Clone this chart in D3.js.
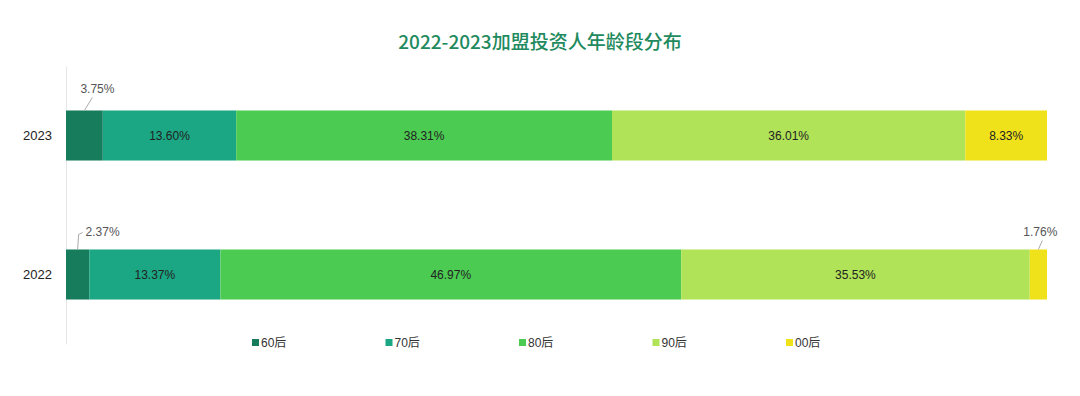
<!DOCTYPE html>
<html>
<head>
<meta charset="utf-8">
<script src="https://cdn.jsdelivr.net/npm/d3@7"></script>
<style>
  body { margin: 0; background: #fff; }
  text { font-family: "Liberation Sans", Arial, "Noto Sans CJK SC", sans-serif; }
</style>
</head>
<body>
<div id="chart"></div>
<script>
// data
const years = ["2023", "2022"];
const groups = ["60后", "70后", "80后", "90后", "00后"];
const values2023 = [3.75, 13.60, 38.31, 36.01, 8.33];
const values2022 = [2.37, 13.37, 46.97, 35.53, 1.76];
const colors = ["#177c5b", "#1ba784", "#4ccb52", "#b0e357", "#efe21b"];

const W = 1080, H = 396;
const svg = d3.select("#chart").append("svg")
  .attr("width", W).attr("height", H);

const x = d3.scaleLinear().domain([0, 100]).range([66, 1047]);
const y = d3.scaleBand().domain(years).range([66, 344])
  .paddingInner(0.64).paddingOuter(0.32);
const color = d3.scaleOrdinal().domain(groups).range(colors);

// title
svg.append("text")
  .attr("x", 540).attr("y", 49)
  .attr("text-anchor", "middle")
  .attr("font-size", 19)
  .attr("font-weight", 500)
  .attr("fill", "#1e8a5e")
  .style("font-family", "'Noto Sans CJK SC', sans-serif")
  .text("2022-2023加盟投资人年龄段分布");

// y axis
const yAxis = svg.append("g")
  .attr("transform", "translate(66,0)")
  .call(d3.axisLeft(y).tickSize(0).tickPadding(14));
yAxis.select(".domain").attr("stroke", "#e6e6e6");
yAxis.selectAll("text").attr("font-size", 13).attr("fill", "#222")
  .style("font-family", "'Liberation Sans', Arial, sans-serif");

// stacked rows
const rows = years.map(yr => {
  const vals = yr === "2023" ? values2023 : values2022;
  let acc = 0;
  return {
    year: yr,
    segs: groups.map((g, i) => {
      const s = { key: g, year: yr, v: vals[i], x0: acc, x1: acc + vals[i] };
      acc += vals[i];
      return s;
    })
  };
});

const segs = rows.flatMap(r => r.segs);

svg.append("g").selectAll("rect")
  .data(segs)
  .join("rect")
  .attr("x", d => x(d.x0))
  .attr("y", d => y(d.year))
  .attr("width", d => x(d.x1) - x(d.x0))
  .attr("height", y.bandwidth())
  .attr("fill", d => color(d.key));

// labels inside wide segments
svg.append("g").selectAll("text")
  .data(segs.filter(d => d.v >= 5))
  .join("text")
  .attr("x", d => (x(d.x0) + x(d.x1)) / 2)
  .attr("y", d => y(d.year) + y.bandwidth() / 2)
  .attr("dy", "0.36em")
  .attr("text-anchor", "middle")
  .attr("font-size", 12)
  .attr("fill", "#222")
  .text(d => d.v.toFixed(2) + "%");

// outside labels with leader lines for narrow segments
const outside = segs.filter(d => d.v < 5);
const lab = svg.append("g");
outside.forEach(d => {
  const cx = (x(d.x0) + x(d.x1)) / 2;
  const top = y(d.year);
  let pts, tx, ty, anchor;
  if (d.year === "2023") {
    pts = [[cx, top], [cx + 8, top - 13]];
    tx = cx - 4; ty = top - 17; anchor = "start";
  } else if (d.x0 < 50) {
    pts = [[cx, top], [cx + 1, top - 15], [cx + 5, top - 17]];
    tx = cx + 8; ty = top - 13; anchor = "start";
  } else {
    pts = [[cx, top], [cx + 4, top - 9]];
    tx = cx + 2; ty = top - 13; anchor = "middle";
  }
  lab.append("path")
    .attr("d", d3.line()(pts))
    .attr("fill", "none")
    .attr("stroke", "#aaa")
    .attr("stroke-width", 1);
  lab.append("text")
    .attr("x", tx).attr("y", ty)
    .attr("text-anchor", anchor)
    .attr("font-size", 12)
    .attr("fill", "#555")
    .text(d.v.toFixed(2) + "%");
});

// legend
const legendX = d3.scalePoint().domain(groups).range([252, 786]);
const lg = svg.append("g").selectAll("g")
  .data(groups)
  .join("g")
  .attr("transform", d => `translate(${legendX(d)},343)`);
lg.append("rect")
  .attr("x", 0).attr("y", -4)
  .attr("width", 7).attr("height", 7)
  .attr("fill", d => color(d));
lg.append("text")
  .attr("x", 9).attr("y", 0)
  .attr("dy", "0.35em")
  .attr("font-size", 12)
  .attr("fill", "#333")
  .text(d => d);
</script>
</body>
</html>
